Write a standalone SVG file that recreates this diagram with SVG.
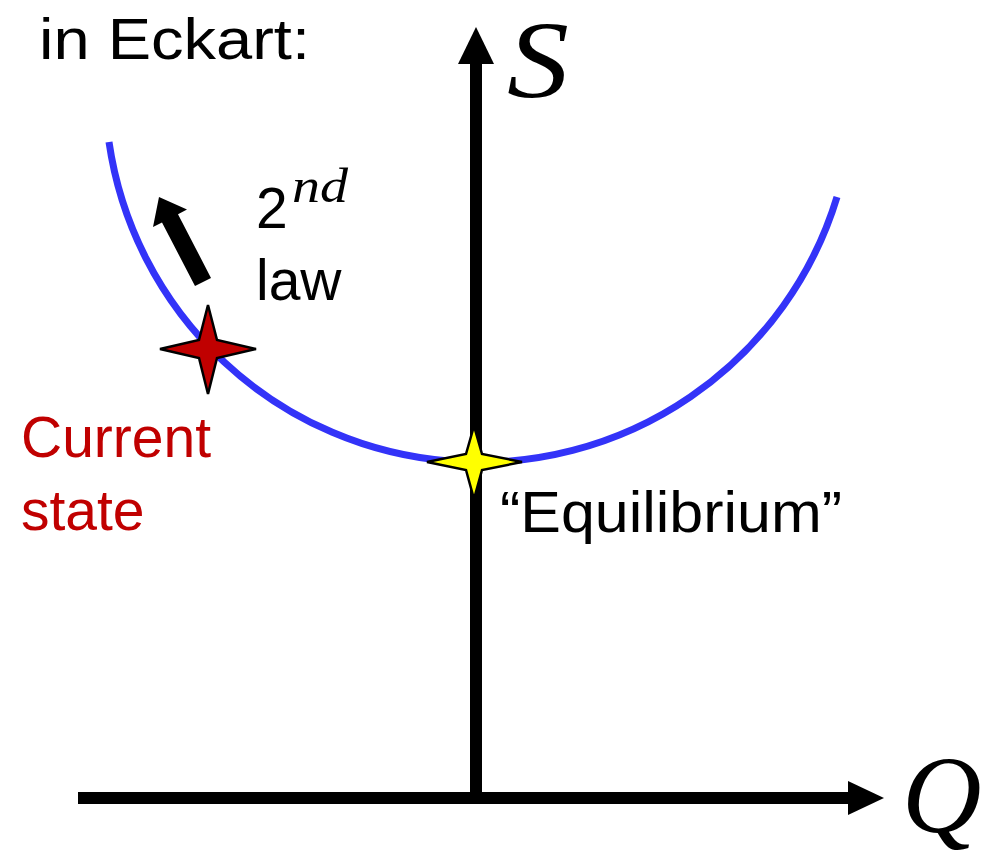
<svg xmlns="http://www.w3.org/2000/svg" width="996" height="858" viewBox="0 0 996 858">
<style>
.t{font-family:"Liberation Sans",Arial,sans-serif;font-size:57px;fill:#000}
.red{fill:#C00000}
.m{font-family:"Liberation Serif","Times New Roman",serif;font-style:italic;fill:#000}
.star{stroke:#000;stroke-width:2.5;stroke-linejoin:miter}
</style>
<rect width="996" height="858" fill="#fff"/>
<g id="curve">
<path d="M109,142 A374,374 0 0 0 837,197" fill="none" stroke="#3333F8" stroke-width="7"/>
</g>
<g id="connectors">
<line x1="476" y1="800" x2="476" y2="60" stroke="#000" stroke-width="12"/>
<polygon points="476,27 458,64 494,64" fill="#000"/>
<line x1="78" y1="798" x2="852" y2="798" stroke="#000" stroke-width="12"/>
<polygon points="884,798 848,781 848,815" fill="#000"/>
<polygon points="159,197 187,209.6 178,214.2 211,277.9 195,286.1 162,222.4 153,227" fill="#000"/>
</g>
<g id="label-title"><text class="t" x="39" y="59" font-size="60" textLength="271" lengthAdjust="spacingAndGlyphs">in Eckart:</text></g>
<g id="label-S"><text class="m" x="507" y="97" font-size="110" textLength="62" lengthAdjust="spacingAndGlyphs">S</text></g>
<g id="label-Q"><text class="m" x="902" y="832" font-size="110">Q</text></g>
<g id="label-2nd">
<text class="t" x="256" y="228">2</text>
<text class="m" x="292" y="202" font-size="48" textLength="56" lengthAdjust="spacingAndGlyphs">nd</text>
<text class="t" x="256" y="300">law</text>
</g>
<g id="current-state">
<polygon class="star" fill="#C00000" points="208,305 217,340 256,349 217,358 208,394 199,358 160,349 199,340"/>
<text class="t red" x="21" y="457">Current</text>
<text class="t red" x="21" y="530">state</text>
</g>
<g id="equilibrium">
<polygon class="star" fill="#FFFF00" points="474,426 482,454 522,462 482,470 474,499 466,470 427,462 466,454"/>
<text class="t" x="500" y="532" textLength="342" lengthAdjust="spacingAndGlyphs">“Equilibrium”</text>
</g>
</svg>
